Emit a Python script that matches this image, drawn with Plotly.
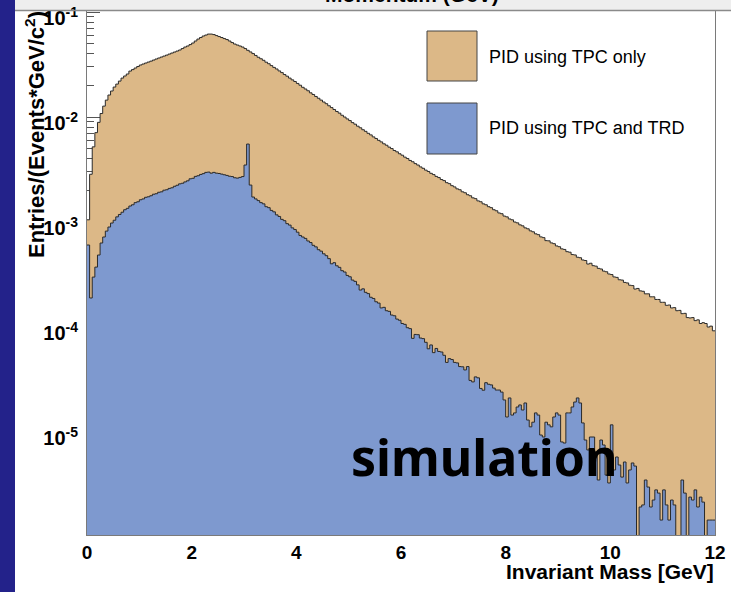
import plotly.graph_objects as go

# ---------------- data ----------------
bin_width = 0.05
mass_edges = [round(i * bin_width, 2) for i in range(241)]

tpc_only = [
    1.05e-3, 2.85e-3, 5.2e-3, 7.1e-3, 8.9e-3, 1.08e-2, 1.27e-2, 1.45e-2, 1.62e-2, 1.77e-2,
    1.93e-2, 2.06e-2, 2.20e-2, 2.35e-2, 2.46e-2, 2.57e-2, 2.74e-2, 2.83e-2, 2.93e-2, 3.03e-2,
    3.13e-2, 3.20e-2, 3.27e-2, 3.34e-2, 3.41e-2, 3.49e-2, 3.57e-2, 3.65e-2, 3.73e-2, 3.81e-2,
    3.89e-2, 3.98e-2, 4.07e-2, 4.16e-2, 4.25e-2, 4.35e-2, 4.49e-2, 4.64e-2, 4.75e-2, 4.90e-2,
    5.07e-2, 5.30e-2, 5.53e-2, 5.72e-2, 5.91e-2, 6.04e-2, 6.17e-2, 6.17e-2, 6.10e-2, 5.97e-2,
    5.84e-2, 5.72e-2, 5.59e-2, 5.47e-2, 5.30e-2, 5.12e-2, 4.96e-2, 4.85e-2, 4.75e-2, 4.64e-2,
    4.49e-2, 4.32e-2, 4.17e-2, 4.02e-2, 3.86e-2, 3.71e-2, 3.59e-2, 3.47e-2, 3.33e-2, 3.22e-2,
    3.09e-2, 2.97e-2, 2.87e-2, 2.75e-2, 2.65e-2, 2.54e-2, 2.45e-2, 2.35e-2, 2.26e-2, 2.18e-2,
    2.09e-2, 2.01e-2, 1.92e-2, 1.85e-2, 1.78e-2, 1.70e-2, 1.64e-2, 1.57e-2, 1.51e-2, 1.45e-2,
    1.39e-2, 1.34e-2, 1.28e-2, 1.23e-2, 1.18e-2, 1.13e-2, 1.09e-2, 1.04e-2, 1.00e-2, 9.60e-3,
    9.25e-3, 8.85e-3, 8.55e-3, 8.18e-3, 7.90e-3, 7.57e-3, 7.31e-3, 7.00e-3, 6.76e-3, 6.47e-3,
    6.25e-3, 6.00e-3, 5.80e-3, 5.56e-3, 5.39e-3, 5.17e-3, 5.01e-3, 4.80e-3, 4.66e-3, 4.47e-3,
    4.33e-3, 4.15e-3, 4.03e-3, 3.86e-3, 3.75e-3, 3.60e-3, 3.49e-3, 3.35e-3, 3.25e-3, 3.12e-3,
    3.03e-3, 2.91e-3, 2.83e-3, 2.72e-3, 2.65e-3, 2.54e-3, 2.48e-3, 2.37e-3, 2.32e-3, 2.22e-3,
    2.16e-3, 2.07e-3, 2.03e-3, 1.94e-3, 1.90e-3, 1.82e-3, 1.78e-3, 1.70e-3, 1.67e-3, 1.59e-3,
    1.56e-3, 1.49e-3, 1.46e-3, 1.40e-3, 1.37e-3, 1.31e-3, 1.28e-3, 1.22e-3, 1.20e-3, 1.14e-3,
    1.12e-3, 1.07e-3, 1.05e-3, 1.00e-3, 9.82e-4, 9.40e-4, 9.20e-4, 8.80e-4, 8.62e-4, 8.24e-4,
    8.07e-4, 7.72e-4, 7.58e-4, 7.22e-4, 7.10e-4, 6.65e-4, 6.62e-4, 6.33e-4, 6.22e-4, 5.92e-4,
    5.82e-4, 5.55e-4, 5.48e-4, 5.22e-4, 5.16e-4, 4.90e-4, 4.86e-4, 4.62e-4, 4.57e-4, 4.35e-4,
    4.30e-4, 3.98e-4, 4.05e-4, 3.84e-4, 3.80e-4, 3.62e-4, 3.57e-4, 3.41e-4, 3.36e-4, 3.20e-4,
    3.16e-4, 3.00e-4, 2.97e-4, 2.82e-4, 2.80e-4, 2.66e-4, 2.63e-4, 2.50e-4, 2.48e-4, 2.30e-4,
    2.33e-4, 2.21e-4, 2.19e-4, 2.07e-4, 2.07e-4, 1.94e-4, 1.94e-4, 1.83e-4, 1.83e-4, 1.72e-4,
    1.72e-4, 1.61e-4, 1.62e-4, 1.52e-4, 1.53e-4, 1.43e-4, 1.44e-4, 1.34e-4, 1.35e-4, 1.23e-4,
    1.22e-4, 1.23e-4, 1.15e-4, 1.17e-4, 1.08e-4, 1.10e-4, 1.08e-4, 1.00e-4, 1.02e-4, 9.2e-5,
]

tpc_trd = [
    6.04e-4, 1.89e-4, 2.99e-4, 3.72e-4, 4.85e-4, 6.31e-4, 7.20e-4, 8.20e-4, 8.96e-4, 9.78e-4,
    1.04e-3, 1.12e-3, 1.18e-3, 1.24e-3, 1.31e-3, 1.35e-3, 1.42e-3, 1.46e-3, 1.53e-3, 1.56e-3,
    1.63e-3, 1.66e-3, 1.72e-3, 1.74e-3, 1.78e-3, 1.84e-3, 1.86e-3, 1.92e-3, 1.94e-3, 2.01e-3,
    2.03e-3, 2.09e-3, 2.12e-3, 2.19e-3, 2.24e-3, 2.31e-3, 2.34e-3, 2.41e-3, 2.47e-3, 2.58e-3,
    2.61e-3, 2.72e-3, 2.76e-3, 2.84e-3, 2.89e-3, 2.97e-3, 2.99e-3, 2.92e-3, 2.97e-3, 2.92e-3,
    2.90e-3, 2.86e-3, 2.82e-3, 2.78e-3, 2.73e-3, 2.71e-3, 2.64e-3, 2.62e-3, 2.66e-3, 2.71e-3,
    3.49e-3, 5.53e-3, 2.25e-3, 1.73e-3, 1.66e-3, 1.60e-3, 1.53e-3, 1.49e-3, 1.40e-3, 1.37e-3,
    1.29e-3, 1.25e-3, 1.17e-3, 1.13e-3, 1.06e-3, 1.03e-3, 9.65e-4, 9.35e-4, 8.80e-4, 8.48e-4,
    8.00e-4, 7.45e-4, 7.20e-4, 6.98e-4, 6.60e-4, 6.38e-4, 6.00e-4, 5.80e-4, 5.45e-4, 5.28e-4,
    4.98e-4, 4.78e-4, 4.48e-4, 4.00e-4, 4.10e-4, 3.83e-4, 3.70e-4, 3.44e-4, 3.34e-4, 3.10e-4,
    3.01e-4, 2.80e-4, 2.72e-4, 2.52e-4, 2.25e-4, 2.31e-4, 2.14e-4, 2.08e-4, 1.92e-4, 1.87e-4,
    1.74e-4, 1.69e-4, 1.52e-4, 1.54e-4, 1.43e-4, 1.41e-4, 1.30e-4, 1.28e-4, 1.19e-4, 1.16e-4,
    1.08e-4, 1.06e-4, 9.85e-5, 9.65e-5, 7.80e-5, 8.50e-5, 8.45e-5, 7.85e-5, 7.75e-5, 7.15e-5,
    6.20e-5, 6.75e-5, 5.70e-5, 6.25e-5, 5.85e-5, 5.78e-5, 5.38e-5, 4.60e-5, 5.00e-5, 4.90e-5,
    4.60e-5, 4.55e-5, 4.20e-5, 4.18e-5, 3.90e-5, 4.20e-5, 3.10e-5, 3.00e-5, 3.35e-5, 3.28e-5,
    2.60e-5, 2.50e-5, 2.95e-5, 2.85e-5, 2.81e-5, 2.62e-5, 2.51e-5, 2.51e-5, 2.40e-5, 2.02e-5,
    1.39e-5, 2.11e-5, 1.45e-5, 1.52e-5, 1.73e-5, 1.81e-5, 1.62e-5, 1.89e-5, 1.30e-5, 1.12e-5,
    1.24e-5, 1.52e-5, 1.45e-5, 9.36e-6, 8.96e-6, 1.24e-5, 1.17e-5, 1.12e-5, 1.39e-5, 1.52e-5,
    1.45e-5, 8.04e-6, 7.85e-6, 1.52e-5, 1.52e-5, 1.73e-5, 1.93e-5, 2.11e-5, 1.89e-5, 1.22e-5,
    8.39e-6, 6.75e-6, 8.96e-6, 8.96e-6, 6.46e-6, 3.49e-6, 8.39e-6, 7.52e-6, 3.89e-6, 3.27e-6,
    1.17e-5, 4.35e-6, 5.78e-6, 4.85e-6, 3.72e-6, 5.18e-6, 3.27e-6, 4.35e-6, 5.07e-6, 4.74e-6,
    0, 1.93e-6, 2.02e-6, 3.49e-6, 2.99e-6, 1.93e-6, 2.25e-6, 2.81e-6, 2.62e-6, 1.45e-6,
    2.81e-6, 2.02e-6, 1.45e-6, 2.25e-6, 2.02e-6, 0, 0, 3.49e-6, 2.62e-6, 0,
    2.40e-6, 2.25e-6, 2.81e-6, 1.93e-6, 2.40e-6, 2.15e-6, 0, 1.45e-6, 1.45e-6, 1.45e-6,
]

series_names = ["PID using TPC only", "PID using TPC and TRD"]
y_tick_vals = [1e-5, 1e-4, 1e-3, 1e-2, 1e-1]
y_tick_text = ["10<sup>-5</sup>", "10<sup>-4</sup>", "10<sup>-3</sup>",
               "10<sup>-2</sup>", "10<sup>-1</sup>"]
x_title = "Invariant Mass [GeV]"
y_title = "Entries/(Events*GeV/c<sup>2</sup>)"
top_title = "Momentum (GeV)"
stamp = "simulation"

# ---------------- layout geometry ----------------
W, H = 731, 592
ML, MR, MT, MB = 87, 16, 11, 57
PW, PH = W - ML - MR, H - MT - MB


def px(x):
    return (x - ML) / PW


def py(y):
    return (H - MB - y) / PH


def step_xy(vals):
    ys = [v if v > 0 else 1e-12 for v in vals]  # empty bins drop to the floor
    return mass_edges, ys + [ys[-1]]


ORANGE = "#dcb887"
BLUE = "#7e99cf"
EDGE = "#2a2a2a"

fig = go.Figure()
for vals, fc in ((tpc_only, ORANGE), (tpc_trd, BLUE)):
    xs, ys = step_xy(vals)
    fig.add_trace(go.Scatter(
        x=xs, y=ys, mode="lines",
        line=dict(shape="hv", color=EDGE, width=1),
        fill="tozeroy", fillcolor=fc,
        hoverinfo="skip", showlegend=False,
    ))

bold = dict(family="Liberation Sans, Arial, sans-serif", color="black", weight="bold")

fig.update_layout(
    width=W, height=H,
    margin=dict(l=ML, r=MR, t=MT, b=MB, pad=0, autoexpand=False),
    paper_bgcolor="white", plot_bgcolor="white",
    showlegend=False,
    xaxis=dict(
        range=[0, 12], tick0=0, dtick=2,
        showline=True, mirror=True, linecolor="#7a7a7a", linewidth=1,
        ticks="inside", ticklen=10, tickcolor="#555",
        layer="below traces", showgrid=False, zeroline=False,
        tickfont=dict(size=19, **bold), ticklabelstandoff=0,
    ),
    yaxis=dict(
        type="log", range=[-5.981, -0.990],
        tickmode="array", tickvals=y_tick_vals, ticktext=y_tick_text,
        showline=True, mirror=True, linecolor="#7a7a7a", linewidth=1,
        ticks="inside", ticklen=13, tickcolor="#555",
        minor=dict(ticks="inside", ticklen=7, tickcolor="#555", dtick="D1", showgrid=False),
        layer="below traces", showgrid=False, zeroline=False,
        tickfont=dict(size=20, **bold), ticklabelstandoff=4,
        ticklabelshift=6, ticklabeloverflow="allow",
    ),
)

shapes = [
    # top header strip
    dict(type="rect", xref="paper", yref="paper", layer="below",
         x0=px(0), x1=px(W), y0=py(10), y1=py(0),
         fillcolor="#eeeeee", line=dict(width=0)),
    dict(type="line", xref="paper", yref="paper", layer="above",
         x0=px(15), x1=px(W), y0=py(10.5), y1=py(10.5),
         line=dict(color="#8a8a8a", width=1.5)),
    # left dark band
    dict(type="rect", xref="paper", yref="paper", layer="above",
         x0=px(0), x1=px(15), y0=py(H), y1=py(0),
         fillcolor="#23228a", line=dict(width=0)),
    # legend boxes
    dict(type="rect", xref="paper", yref="paper", layer="above",
         x0=px(427), x1=px(477), y0=py(81), y1=py(31),
         fillcolor=ORANGE, line=dict(color="#444", width=1)),
    dict(type="rect", xref="paper", yref="paper", layer="above",
         x0=px(427), x1=px(477), y0=py(154), y1=py(103),
         fillcolor=BLUE, line=dict(color="#444", width=1)),
]
fig.update_layout(shapes=shapes)

reg = dict(family="Liberation Sans, Arial, sans-serif", color="black")
ann = [
    dict(text=top_title, x=px(412), y=py(-5), xanchor="center", yanchor="middle",
         font=dict(size=21, **bold)),
    dict(text=y_title, x=px(35), y=py(135), xanchor="center", yanchor="middle",
         textangle=-90, font=dict(size=22, **bold)),
    dict(text=x_title, x=px(716), y=py(571), xanchor="right", yanchor="middle",
         font=dict(size=21, **bold)),
    dict(text=series_names[0], x=px(487), y=py(57), xanchor="left", yanchor="middle",
         font=dict(size=18, **reg)),
    dict(text=series_names[1], x=px(487), y=py(128), xanchor="left", yanchor="middle",
         font=dict(size=18, **reg)),
    dict(text=stamp, x=px(484), y=py(457), xanchor="center", yanchor="middle",
         font=dict(family="Noto Sans, sans-serif", size=50, color="black", weight="bold")),
]
for a in ann:
    a.update(xref="paper", yref="paper", showarrow=False)
fig.update_layout(annotations=ann)

fig.write_html("out.html")
